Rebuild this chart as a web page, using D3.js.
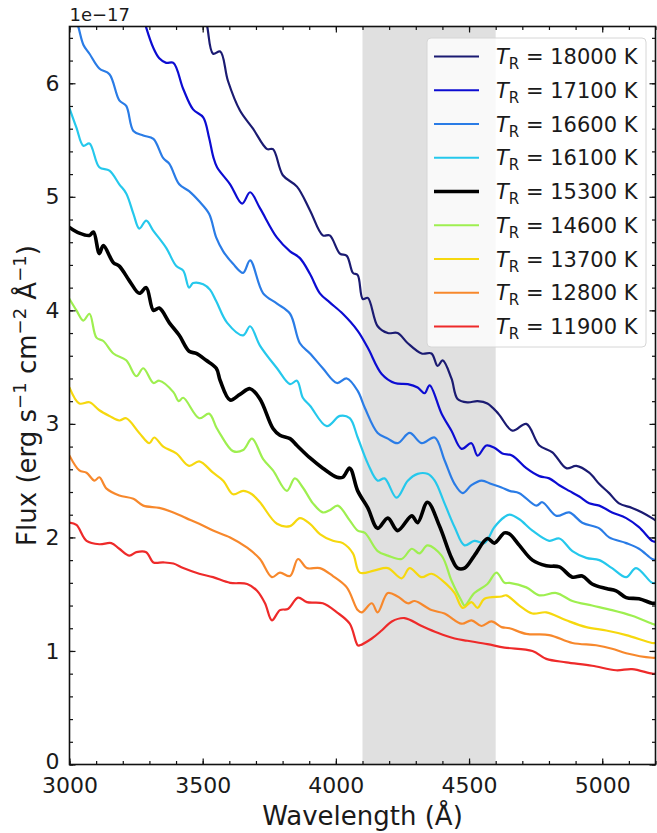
<!DOCTYPE html>
<html>
<head>
<meta charset="utf-8">
<script src="https://cdn.jsdelivr.net/npm/d3@7"></script>
<style>
  body { margin: 0; background: #fff; }
  svg text { font-family: "DejaVu Sans", sans-serif; fill: #1a1a1a; }
</style>
</head>
<body>
<svg id="chart" width="657" height="833"></svg>
<script>
// Model spectra (flux in units of 1e-17 erg s^-1 cm^-2 Å^-1) for different radiation temperatures
const temps = [18000, 17100, 16600, 16100, 15300, 14600, 13700, 12800, 11900];
const lineColors = ["#1b1b72", "#0c0cd2", "#2a7ce6", "#25c8ec", "#000000", "#9eef50", "#f6d80e", "#f7882c", "#ee2a2a"];
const lineWidths = [2.2, 2.2, 2.2, 2.2, 3.6, 2.2, 2.2, 2.2, 2.2];

const spec18000 = [[3505,6.62],[3517,6.50],[3539,6.26],[3566,6.28],[3595,6.02],[3640,5.76],[3689,5.60],[3742,5.42],[3764,5.42],[3801,5.19],[3854,5.09],[3903,4.88],[3951,4.66],[3977,4.66],[4015,4.50],[4041,4.48],[4064,4.33],[4082,4.31],[4101,4.10],[4120,4.11],[4157,3.86],[4195,3.80],[4232,3.80],[4270,3.71],[4322,3.62],[4359,3.62],[4382,3.51],[4401,3.56],[4434,3.40],[4457,3.22],[4494,3.19],[4532,3.20],[4569,3.18],[4610,3.09],[4663,2.94],[4715,3.00],[4764,2.81],[4813,2.75],[4865,2.61],[4903,2.63],[4951,2.57],[4989,2.47],[5026,2.39],[5063,2.30],[5112,2.26],[5150,2.22],[5187,2.17],[5200,2.15]];
const spec17100 = [[3270,6.65],[3288,6.49],[3315,6.31],[3337,6.22],[3363,6.18],[3390,6.18],[3427,5.95],[3464,5.77],[3502,5.70],[3524,5.52],[3540,5.35],[3554,5.26],[3603,5.11],[3648,4.94],[3678,5.04],[3715,4.90],[3779,4.64],[3828,4.52],[3865,4.46],[3903,4.32],[3940,4.15],[3977,4.07],[4026,3.97],[4082,3.82],[4120,3.67],[4172,3.44],[4221,3.36],[4270,3.35],[4307,3.32],[4333,3.27],[4352,3.34],[4397,3.09],[4434,2.94],[4472,2.78],[4509,2.83],[4532,2.72],[4565,2.81],[4595,2.79],[4625,2.74],[4663,2.72],[4715,2.61],[4764,2.54],[4801,2.52],[4839,2.46],[4876,2.41],[4914,2.36],[4951,2.30],[4989,2.28],[5037,2.22],[5090,2.17],[5138,2.09],[5187,1.97],[5200,1.96]];
const spec16600 = [[3000,6.77],[3034,6.49],[3052,6.34],[3075,6.26],[3112,6.13],[3150,6.08],[3187,5.85],[3213,5.80],[3240,5.58],[3277,5.54],[3315,5.51],[3352,5.34],[3375,5.29],[3412,5.11],[3449,5.05],[3487,4.96],[3524,4.85],[3551,4.64],[3577,4.52],[3614,4.41],[3652,4.33],[3678,4.44],[3727,4.15],[3779,4.06],[3828,3.97],[3865,3.71],[3903,3.62],[3951,3.49],[4004,3.36],[4041,3.40],[4082,3.29],[4109,3.14],[4157,2.92],[4195,2.87],[4232,2.83],[4277,2.92],[4322,2.83],[4371,2.88],[4408,2.68],[4446,2.47],[4476,2.39],[4509,2.46],[4547,2.50],[4584,2.47],[4622,2.44],[4652,2.41],[4689,2.39],[4753,2.28],[4775,2.31],[4828,2.19],[4876,2.22],[4925,2.13],[4989,2.08],[5026,2.00],[5090,1.95],[5138,1.90],[5187,1.81],[5200,1.80]];
const spec16100 = [[3000,5.78],[3026,5.61],[3052,5.45],[3075,5.47],[3112,5.26],[3150,5.23],[3187,5.11],[3213,5.03],[3240,4.85],[3262,4.72],[3288,4.79],[3315,4.70],[3363,4.55],[3401,4.39],[3427,4.35],[3449,4.20],[3464,4.24],[3502,4.23],[3528,4.18],[3551,4.08],[3592,3.89],[3652,3.78],[3678,3.86],[3715,3.69],[3779,3.49],[3828,3.35],[3854,3.38],[3876,3.23],[3903,3.16],[3966,2.98],[4015,3.07],[4052,3.05],[4082,2.88],[4120,2.65],[4157,2.50],[4183,2.52],[4228,2.35],[4270,2.50],[4307,2.56],[4344,2.56],[4371,2.50],[4408,2.30],[4446,2.09],[4483,1.93],[4520,1.97],[4558,1.95],[4595,2.09],[4633,2.18],[4652,2.20],[4689,2.16],[4738,2.06],[4801,1.97],[4839,1.99],[4888,1.88],[4940,1.82],[4989,1.80],[5037,1.73],[5090,1.65],[5127,1.73],[5187,1.60],[5200,1.60]];
const spec15300 = [[3000,4.73],[3037,4.68],[3075,4.66],[3090,4.69],[3112,4.50],[3127,4.57],[3165,4.42],[3187,4.39],[3225,4.26],[3262,4.15],[3288,4.20],[3315,4.00],[3337,4.02],[3375,3.89],[3412,3.78],[3449,3.64],[3476,3.62],[3513,3.56],[3551,3.49],[3566,3.38],[3603,3.21],[3640,3.26],[3678,3.31],[3715,3.22],[3764,2.96],[3790,2.90],[3828,2.87],[3854,2.81],[3903,2.70],[3951,2.61],[4004,2.53],[4026,2.53],[4052,2.61],[4082,2.41],[4120,2.26],[4157,2.08],[4195,2.17],[4232,2.06],[4285,2.19],[4307,2.13],[4344,2.31],[4389,2.10],[4434,1.82],[4457,1.73],[4483,1.73],[4520,1.84],[4569,1.99],[4595,1.95],[4633,2.04],[4652,2.03],[4689,1.93],[4738,1.80],[4790,1.75],[4839,1.74],[4888,1.65],[4925,1.66],[4962,1.59],[5015,1.55],[5052,1.53],[5090,1.47],[5138,1.46],[5187,1.42],[5200,1.42]];
const spec14600 = [[3000,4.10],[3026,4.00],[3052,3.91],[3075,3.97],[3101,3.76],[3127,3.73],[3165,3.62],[3213,3.56],[3251,3.42],[3277,3.49],[3315,3.36],[3337,3.38],[3390,3.28],[3410,3.20],[3427,3.23],[3487,3.05],[3524,3.09],[3551,2.97],[3566,2.91],[3614,2.76],[3652,2.77],[3685,2.87],[3727,2.69],[3764,2.59],[3816,2.41],[3846,2.52],[3876,2.44],[3914,2.30],[3951,2.22],[3977,2.24],[4007,2.28],[4052,2.15],[4082,2.06],[4109,2.04],[4157,1.88],[4195,1.84],[4247,1.81],[4285,1.90],[4314,1.86],[4344,1.93],[4397,1.84],[4434,1.62],[4472,1.44],[4483,1.40],[4520,1.51],[4569,1.59],[4603,1.69],[4633,1.60],[4652,1.60],[4715,1.56],[4764,1.49],[4828,1.51],[4888,1.44],[4962,1.40],[5037,1.36],[5112,1.31],[5187,1.24],[5200,1.23]];
const spec13700 = [[3000,3.32],[3037,3.18],[3075,3.19],[3112,3.12],[3150,3.07],[3187,3.03],[3213,3.05],[3262,2.92],[3300,2.83],[3318,2.88],[3352,2.80],[3401,2.74],[3449,2.63],[3487,2.67],[3539,2.57],[3577,2.50],[3614,2.38],[3652,2.41],[3685,2.38],[3715,2.31],[3779,2.12],[3828,2.10],[3865,2.17],[3903,2.12],[3940,2.03],[3989,1.97],[4026,1.95],[4064,1.86],[4090,1.69],[4146,1.71],[4195,1.73],[4247,1.64],[4277,1.73],[4322,1.65],[4359,1.68],[4419,1.58],[4446,1.51],[4476,1.38],[4509,1.43],[4532,1.38],[4558,1.46],[4622,1.48],[4640,1.49],[4689,1.40],[4738,1.33],[4790,1.34],[4865,1.27],[4940,1.21],[5015,1.18],[5090,1.14],[5187,1.07],[5200,1.07]];
const spec12800 = [[3000,2.72],[3037,2.59],[3064,2.57],[3094,2.50],[3112,2.53],[3139,2.43],[3187,2.37],[3240,2.34],[3277,2.28],[3337,2.26],[3390,2.22],[3438,2.17],[3487,2.12],[3539,2.06],[3603,2.00],[3667,1.91],[3715,1.81],[3760,1.65],[3790,1.69],[3828,1.66],[3858,1.81],[3891,1.73],[3940,1.73],[3989,1.66],[4041,1.56],[4082,1.36],[4097,1.34],[4135,1.42],[4157,1.34],[4195,1.51],[4232,1.48],[4270,1.42],[4296,1.44],[4359,1.36],[4408,1.33],[4472,1.24],[4509,1.27],[4547,1.22],[4584,1.26],[4622,1.21],[4652,1.20],[4715,1.15],[4801,1.14],[4888,1.07],[4977,1.05],[5037,1.02],[5090,0.98],[5187,0.94],[5200,0.94]];
const spec11900 = [[3000,2.13],[3026,2.11],[3064,1.97],[3112,1.94],[3157,1.95],[3187,1.90],[3225,1.84],[3251,1.87],[3288,1.87],[3315,1.78],[3352,1.78],[3390,1.77],[3427,1.73],[3487,1.68],[3539,1.65],[3603,1.60],[3667,1.59],[3704,1.53],[3734,1.42],[3760,1.27],[3790,1.36],[3820,1.37],[3858,1.47],[3891,1.43],[3951,1.42],[4004,1.34],[4052,1.24],[4082,1.05],[4090,1.05],[4135,1.11],[4172,1.18],[4210,1.26],[4258,1.29],[4322,1.22],[4382,1.16],[4446,1.11],[4494,1.09],[4569,1.06],[4633,1.03],[4738,1.00],[4790,0.93],[4865,0.90],[4962,0.87],[5052,0.83],[5112,0.84],[5187,0.80],[5200,0.80]];

const spectra = [spec18000, spec17100, spec16600, spec16100, spec15300, spec14600, spec13700, spec12800, spec11900];

const xTicks = [3000, 3500, 4000, 4500, 5000];
const yTicks = [0, 1, 2, 3, 4, 5, 6];
const xMinorTicks = d3.range(3000, 5201, 100);
const yMinorTicks = d3.range(0, 6.51, 0.2);
const bandRange = [4100, 4600];
const xDomain = [3000, 5200];
const yDomain = [0, 6.5];

const plot = { left: 69.5, right: 655.5, top: 26.5, bottom: 764.5 };

const svg = d3.select("#chart");
const x = d3.scaleLinear().domain(xDomain).range([plot.left, plot.right]);
const y = d3.scaleLinear().domain(yDomain).range([plot.bottom, plot.top]);

svg.append("defs").append("clipPath").attr("id", "plotClip")
  .append("rect")
  .attr("x", plot.left).attr("y", plot.top)
  .attr("width", plot.right - plot.left).attr("height", plot.bottom - plot.top);

// Shaded wavelength window
svg.append("rect")
  .attr("x", x(bandRange[0])).attr("y", plot.top)
  .attr("width", x(bandRange[1]) - x(bandRange[0]))
  .attr("height", plot.bottom - plot.top)
  .attr("fill", "#e0e0e0");

// Spectra
const line = d3.line()
  .x(d => x(d[0]))
  .y(d => y(d[1]))
  .curve(d3.curveCatmullRom.alpha(0.5));

const lines = svg.append("g").attr("clip-path", "url(#plotClip)");
spectra.forEach((s, i) => {
  lines.append("path")
    .datum(s)
    .attr("d", line)
    .attr("fill", "none")
    .attr("stroke", lineColors[i])
    .attr("stroke-width", lineWidths[i])
    .attr("stroke-linejoin", "round")
    .attr("stroke-linecap", "round");
});

// Axes: inward ticks on all four sides
function styleAxis(g) {
  g.select(".domain").remove();
  g.selectAll(".tick line").attr("stroke", "#111").attr("stroke-width", 1.2);
  g.selectAll(".tick text").style("font-size", "22px").attr("fill", "#1a1a1a");
}

const majorLen = 6, minorLen = 3.5;

svg.append("g").attr("transform", `translate(0,${plot.bottom})`)
  .call(d3.axisBottom(x).tickValues(xMinorTicks).tickSize(-minorLen).tickFormat(""))
  .call(styleAxis);
svg.append("g").attr("transform", `translate(0,${plot.bottom})`)
  .call(d3.axisBottom(x).tickValues(xTicks).tickSize(-majorLen).tickPadding(13).tickFormat(d3.format("d")))
  .call(styleAxis);
svg.append("g").attr("transform", `translate(0,${plot.top})`)
  .call(d3.axisTop(x).tickValues(xMinorTicks).tickSize(-minorLen).tickFormat(""))
  .call(styleAxis);
svg.append("g").attr("transform", `translate(0,${plot.top})`)
  .call(d3.axisTop(x).tickValues(xTicks).tickSize(-majorLen).tickFormat(""))
  .call(styleAxis);

svg.append("g").attr("transform", `translate(${plot.left},0)`)
  .call(d3.axisLeft(y).tickValues(yMinorTicks).tickSize(-minorLen).tickFormat(""))
  .call(styleAxis);
svg.append("g").attr("transform", `translate(${plot.left},0)`)
  .call(d3.axisLeft(y).tickValues(yTicks).tickSize(-majorLen).tickPadding(10).tickFormat(d3.format("d")))
  .call(styleAxis)
  .call(g => g.selectAll(".tick text").filter(d => d === 0).attr("dy", "0.2em"));
svg.append("g").attr("transform", `translate(${plot.right},0)`)
  .call(d3.axisRight(y).tickValues(yMinorTicks).tickSize(-minorLen).tickFormat(""))
  .call(styleAxis);
svg.append("g").attr("transform", `translate(${plot.right},0)`)
  .call(d3.axisRight(y).tickValues(yTicks).tickSize(-majorLen).tickFormat(""))
  .call(styleAxis);

// Frame
svg.append("rect")
  .attr("x", plot.left).attr("y", plot.top)
  .attr("width", plot.right - plot.left).attr("height", plot.bottom - plot.top)
  .attr("fill", "none").attr("stroke", "#111").attr("stroke-width", 1.6);

// Offset (scale) text
svg.append("text")
  .attr("x", plot.left).attr("y", 21)
  .style("font-size", "18px")
  .text("1e\u221217");

// Axis labels
svg.append("text")
  .attr("x", (plot.left + plot.right) / 2).attr("y", 825)
  .attr("text-anchor", "middle")
  .style("font-size", "26px")
  .text("Wavelength (Å)");

const yl = svg.append("text")
  .attr("transform", `translate(36,${(plot.top + plot.bottom) / 2}) rotate(-90)`)
  .attr("text-anchor", "middle")
  .style("font-size", "26px");
const ylParts = [["Flux (erg s", 0], ["\u22121", 1], [" cm", 0], ["\u22122", 1], [" Å", 0], ["\u22121", 1], [")", 0]];
let prevSup = 0;
ylParts.forEach(([t, sup]) => {
  const ts = yl.append("tspan").text(t);
  const dy = sup ? -10 : (prevSup ? 10 : 0);
  if (dy) ts.attr("dy", dy);
  if (sup) ts.style("font-size", "18px");
  prevSup = sup;
});

// Legend
const legend = { x: 427, y: 38, w: 219, h: 309, rowH: 33.75, firstRow: 56.5 };
svg.append("rect")
  .attr("x", legend.x).attr("y", legend.y)
  .attr("width", legend.w).attr("height", legend.h)
  .attr("rx", 4).attr("ry", 4)
  .attr("fill", "#ffffff").attr("fill-opacity", 0.8)
  .attr("stroke", "#d6d6d6").attr("stroke-width", 1);

temps.forEach((t, i) => {
  const ly = legend.firstRow + i * legend.rowH;
  svg.append("line")
    .attr("x1", 434).attr("x2", 479)
    .attr("y1", ly).attr("y2", ly)
    .attr("stroke", lineColors[i])
    .attr("stroke-width", lineWidths[i]);
  const txt = svg.append("text")
    .attr("x", 496).attr("y", ly + 7.5)
    .style("font-size", "21px");
  txt.append("tspan").style("font-style", "italic").text("T");
  txt.append("tspan").attr("dy", 5).style("font-size", "15px").text("R");
  txt.append("tspan").attr("dy", -5).text(` = ${t} K`);
});
</script>
</body>
</html>
